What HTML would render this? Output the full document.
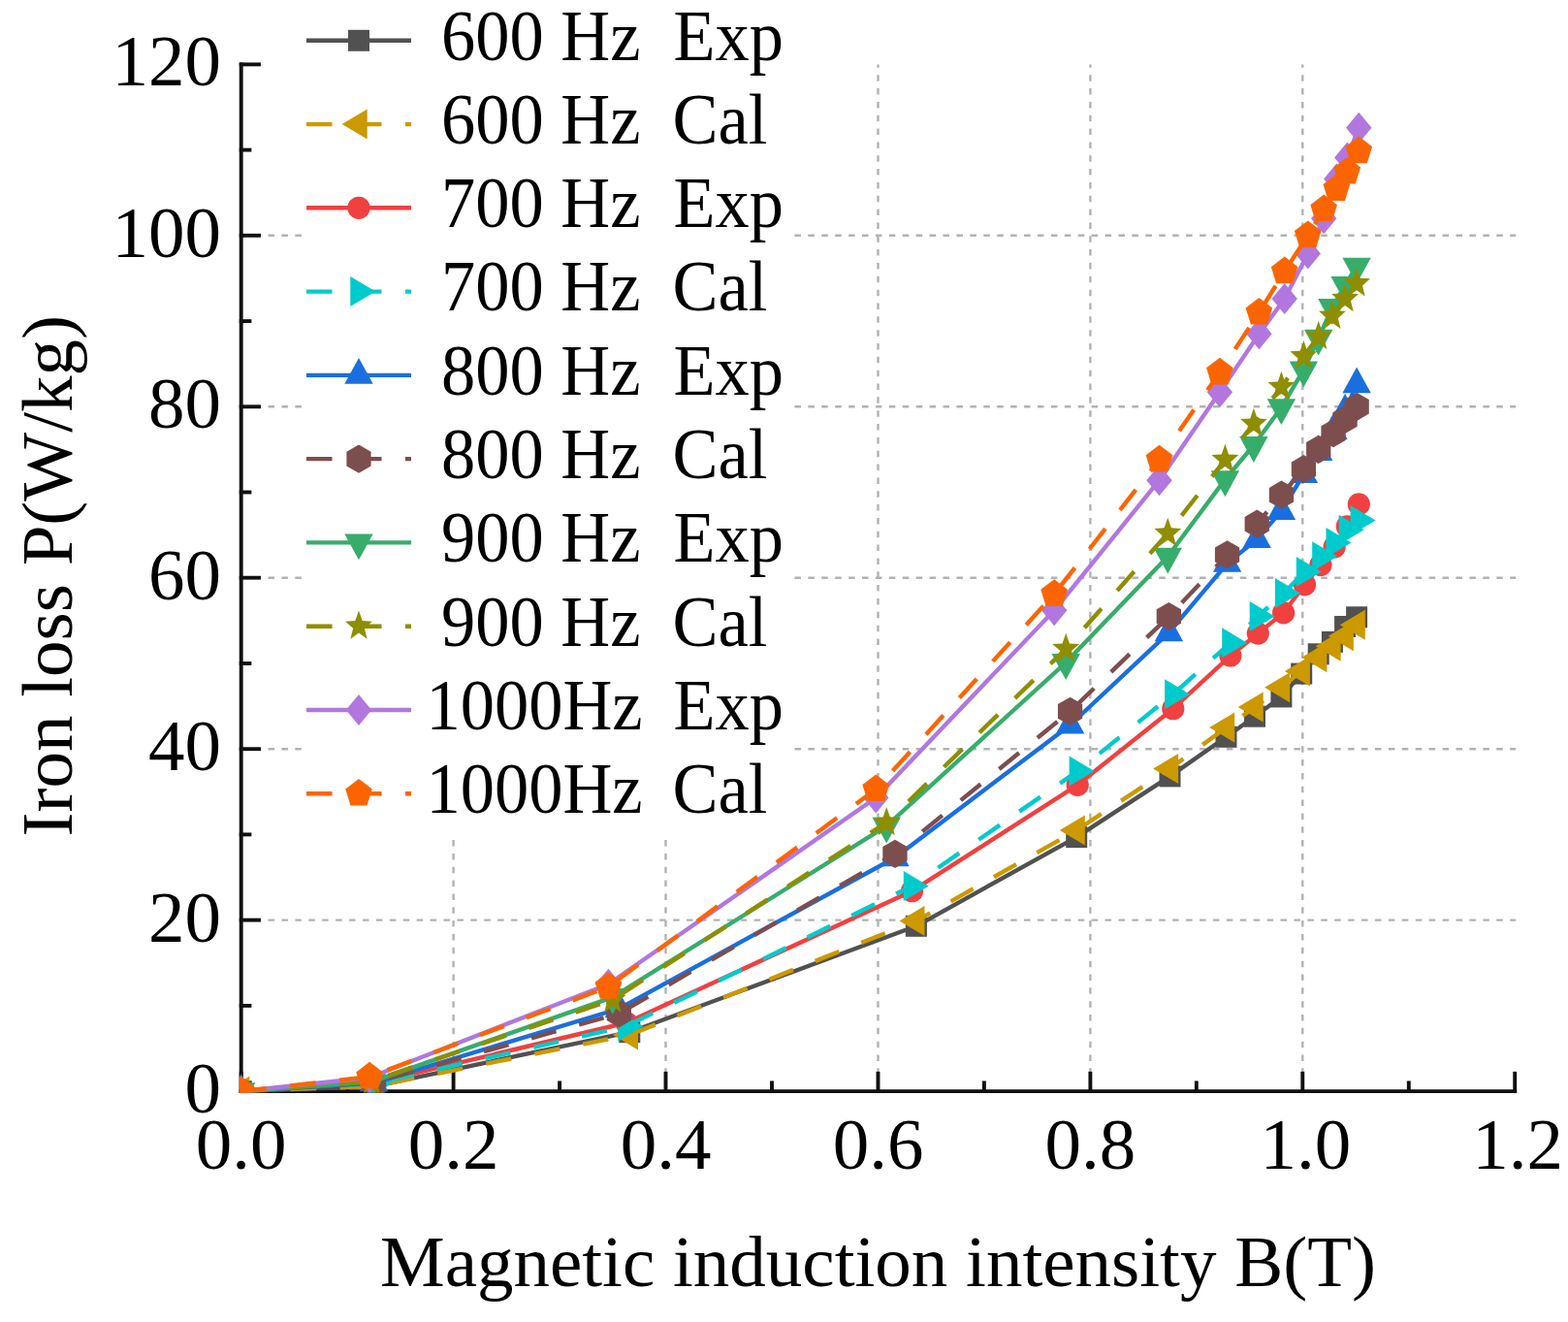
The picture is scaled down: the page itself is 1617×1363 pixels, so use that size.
<!DOCTYPE html>
<html><head><meta charset="utf-8"><title>Iron loss vs magnetic induction</title>
<style>
html,body{margin:0;padding:0;background:#fff;}
body{width:1617px;height:1363px;overflow:hidden;}
svg{display:block;font-family:"Liberation Serif","Times New Roman",serif;}
</style></head><body>
<svg width="1617" height="1363" viewBox="0 0 1617 1363">
<defs><clipPath id="pc"><rect x="247" y="60" width="1330" height="1066.5"/></clipPath></defs>
<rect width="1617" height="1363" fill="#fff"/>
<g stroke="#b2b2b2" stroke-width="2.4" fill="none"><line x1="467.6" y1="1121.7" x2="467.6" y2="66.4" stroke-dasharray="6.5 7.34"/><line x1="686.5" y1="1121.7" x2="686.5" y2="66.4" stroke-dasharray="6.5 7.34"/><line x1="905.5" y1="1121.7" x2="905.5" y2="66.4" stroke-dasharray="6.5 7.34"/><line x1="1124.4" y1="1121.7" x2="1124.4" y2="66.4" stroke-dasharray="6.5 7.34"/><line x1="1343.3" y1="1121.7" x2="1343.3" y2="66.4" stroke-dasharray="6.5 7.34"/><line x1="248.7" y1="948.6" x2="1563.2" y2="948.6" stroke-dasharray="6.5 7.42"/><line x1="248.7" y1="772.2" x2="1563.2" y2="772.2" stroke-dasharray="6.5 7.42"/><line x1="248.7" y1="595.7" x2="1563.2" y2="595.7" stroke-dasharray="6.5 7.42"/><line x1="248.7" y1="419.3" x2="1563.2" y2="419.3" stroke-dasharray="6.5 7.42"/><line x1="248.7" y1="242.8" x2="1563.2" y2="242.8" stroke-dasharray="6.5 7.42"/></g>
<rect x="312" y="0" width="501" height="861" fill="#fff"/>
<g stroke="#111" stroke-width="3.9" fill="none" stroke-linecap="square"><path d="M248.7 66.4 V1125.1 H1562.2" /><line x1="248.7" y1="1125.1" x2="267" y2="1125.1"/><line x1="248.7" y1="948.6" x2="267" y2="948.6"/><line x1="248.7" y1="772.2" x2="267" y2="772.2"/><line x1="248.7" y1="595.7" x2="267" y2="595.7"/><line x1="248.7" y1="419.3" x2="267" y2="419.3"/><line x1="248.7" y1="242.8" x2="267" y2="242.8"/><line x1="248.7" y1="66.4" x2="267" y2="66.4"/><line x1="248.7" y1="1036.9" x2="257.4" y2="1036.9"/><line x1="248.7" y1="860.4" x2="257.4" y2="860.4"/><line x1="248.7" y1="684" x2="257.4" y2="684"/><line x1="248.7" y1="507.5" x2="257.4" y2="507.5"/><line x1="248.7" y1="331.1" x2="257.4" y2="331.1"/><line x1="248.7" y1="154.6" x2="257.4" y2="154.6"/><line x1="248.7" y1="1125.1" x2="248.7" y2="1106.8"/><line x1="467.6" y1="1125.1" x2="467.6" y2="1106.8"/><line x1="686.5" y1="1125.1" x2="686.5" y2="1106.8"/><line x1="905.5" y1="1125.1" x2="905.5" y2="1106.8"/><line x1="1124.4" y1="1125.1" x2="1124.4" y2="1106.8"/><line x1="1343.3" y1="1125.1" x2="1343.3" y2="1106.8"/><line x1="1562.2" y1="1125.1" x2="1562.2" y2="1106.8"/><line x1="358.2" y1="1125.1" x2="358.2" y2="1116.4"/><line x1="577.1" y1="1125.1" x2="577.1" y2="1116.4"/><line x1="796" y1="1125.1" x2="796" y2="1116.4"/><line x1="1014.9" y1="1125.1" x2="1014.9" y2="1116.4"/><line x1="1233.8" y1="1125.1" x2="1233.8" y2="1116.4"/><line x1="1452.8" y1="1125.1" x2="1452.8" y2="1116.4"/></g>
<g font-size="75" fill="#000"><text x="228" y="1147.1" text-anchor="end">0</text><text x="228" y="970.6" text-anchor="end">20</text><text x="228" y="794.2" text-anchor="end">40</text><text x="228" y="617.7" text-anchor="end">60</text><text x="228" y="441.3" text-anchor="end">80</text><text x="228" y="264.8" text-anchor="end">100</text><text x="228" y="88.4" text-anchor="end">120</text><text x="248.7" y="1205" text-anchor="middle">0.0</text><text x="467.6" y="1205" text-anchor="middle">0.2</text><text x="686.5" y="1205" text-anchor="middle">0.4</text><text x="905.5" y="1205" text-anchor="middle">0.6</text><text x="1124.4" y="1205" text-anchor="middle">0.8</text><text x="1346.3" y="1205" text-anchor="middle">1.0</text><text x="1565.2" y="1205" text-anchor="middle">1.2</text></g>
<text x="392" y="1325.5" font-size="75" textLength="1027" lengthAdjust="spacingAndGlyphs">Magnetic induction intensity B(T)</text>
<text transform="translate(73.5 862.5) rotate(-90)" font-size="75">Iron loss P(W/kg)</text>
<g clip-path="url(#pc)">
<path d="M248.7 1125.1 L386.6 1119.8 L649.3 1064.2 L944.9 954.8 L1110.2 863.1 L1206.5 800.4 L1264.5 759.8 L1294 738.7 L1321.4 718.4 L1342.2 694.6 L1359.7 674.3 L1373.9 661.9 L1387.1 646 L1399.1 636.3" stroke="#515151" stroke-width="4.4" fill="none" stroke-linejoin="round"/>
<rect x="237.7" y="1114.1" width="22" height="22" fill="#515151"/><rect x="375.6" y="1108.8" width="22" height="22" fill="#515151"/><rect x="638.3" y="1053.2" width="22" height="22" fill="#515151"/><rect x="933.9" y="943.8" width="22" height="22" fill="#515151"/><rect x="1099.2" y="852.1" width="22" height="22" fill="#515151"/><rect x="1195.5" y="789.4" width="22" height="22" fill="#515151"/><rect x="1253.5" y="748.8" width="22" height="22" fill="#515151"/><rect x="1283" y="727.7" width="22" height="22" fill="#515151"/><rect x="1310.4" y="707.4" width="22" height="22" fill="#515151"/><rect x="1331.2" y="683.6" width="22" height="22" fill="#515151"/><rect x="1348.7" y="663.3" width="22" height="22" fill="#515151"/><rect x="1362.9" y="650.9" width="22" height="22" fill="#515151"/><rect x="1376.1" y="635" width="22" height="22" fill="#515151"/><rect x="1388.1" y="625.3" width="22" height="22" fill="#515151"/>
<path d="M248.7 1125.1 L386.6 1119.8 L649.3 1066.9 L944.9 949.5 L1110.2 856 L1206.5 792.5 L1264.5 750.1 L1294 729 L1321.4 708.7 L1342.2 691.9 L1359.7 677.8 L1373.9 666.3 L1387.1 655.7 L1399.1 644.3" stroke="#CC9900" stroke-width="4.4" fill="none" stroke-linejoin="round" stroke-dasharray="26.5 24.5"/>
<polygon points="231.4,1125.1 257.4,1109.6 257.4,1140.6" fill="#CC9900"/><polygon points="369.3,1119.8 395.3,1104.3 395.3,1135.3" fill="#CC9900"/><polygon points="632,1066.9 658,1051.4 658,1082.4" fill="#CC9900"/><polygon points="927.5,949.5 953.5,934 953.5,965" fill="#CC9900"/><polygon points="1092.8,856 1118.8,840.5 1118.8,871.5" fill="#CC9900"/><polygon points="1189.1,792.5 1215.1,777 1215.1,808" fill="#CC9900"/><polygon points="1247.2,750.1 1273.2,734.6 1273.2,765.6" fill="#CC9900"/><polygon points="1276.7,729 1302.7,713.5 1302.7,744.5" fill="#CC9900"/><polygon points="1304.1,708.7 1330.1,693.2 1330.1,724.2" fill="#CC9900"/><polygon points="1324.9,691.9 1350.9,676.4 1350.9,707.4" fill="#CC9900"/><polygon points="1342.4,677.8 1368.4,662.3 1368.4,693.3" fill="#CC9900"/><polygon points="1356.6,666.3 1382.6,650.8 1382.6,681.8" fill="#CC9900"/><polygon points="1369.8,655.7 1395.8,640.2 1395.8,671.2" fill="#CC9900"/><polygon points="1381.8,644.3 1407.8,628.8 1407.8,659.8" fill="#CC9900"/>
<path d="M248.7 1125.1 L386.6 1116.3 L646 1054.5 L940.5 918.7 L1111.2 809.3 L1209.8 730.7 L1268.9 676 L1297.3 653.1 L1323.6 631.9 L1345.5 602.8 L1361.9 582.5 L1376.1 564 L1389.3 542.8 L1401.3 519.9" stroke="#F14040" stroke-width="4.4" fill="none" stroke-linejoin="round"/>
<circle cx="248.7" cy="1125.1" r="11.6" fill="#F14040"/><circle cx="386.6" cy="1116.3" r="11.6" fill="#F14040"/><circle cx="646" cy="1054.5" r="11.6" fill="#F14040"/><circle cx="940.5" cy="918.7" r="11.6" fill="#F14040"/><circle cx="1111.2" cy="809.3" r="11.6" fill="#F14040"/><circle cx="1209.8" cy="730.7" r="11.6" fill="#F14040"/><circle cx="1268.9" cy="676" r="11.6" fill="#F14040"/><circle cx="1297.3" cy="653.1" r="11.6" fill="#F14040"/><circle cx="1323.6" cy="631.9" r="11.6" fill="#F14040"/><circle cx="1345.5" cy="602.8" r="11.6" fill="#F14040"/><circle cx="1361.9" cy="582.5" r="11.6" fill="#F14040"/><circle cx="1376.1" cy="564" r="11.6" fill="#F14040"/><circle cx="1389.3" cy="542.8" r="11.6" fill="#F14040"/><circle cx="1401.3" cy="519.9" r="11.6" fill="#F14040"/>
<path d="M248.7 1125.1 L386.6 1117.2 L646 1058 L940.5 913.4 L1111.2 795.1 L1209.8 715.7 L1268.9 662.8 L1297.3 635.5 L1323.6 611.6 L1345.5 589.6 L1361.9 573.7 L1376.1 559.6 L1389.3 546.3 L1401.3 536.6" stroke="#00CBCC" stroke-width="4.4" fill="none" stroke-linejoin="round" stroke-dasharray="26.5 24.5"/>
<polygon points="266,1125.1 240,1109.6 240,1140.6" fill="#00CBCC"/><polygon points="404,1117.2 378,1101.7 378,1132.7" fill="#00CBCC"/><polygon points="663.4,1058 637.4,1042.5 637.4,1073.5" fill="#00CBCC"/><polygon points="957.8,913.4 931.8,897.9 931.8,928.9" fill="#00CBCC"/><polygon points="1128.6,795.1 1102.6,779.6 1102.6,810.6" fill="#00CBCC"/><polygon points="1227.1,715.7 1201.1,700.2 1201.1,731.2" fill="#00CBCC"/><polygon points="1286.2,662.8 1260.2,647.3 1260.2,678.3" fill="#00CBCC"/><polygon points="1314.7,635.5 1288.7,620 1288.7,651" fill="#00CBCC"/><polygon points="1340.9,611.6 1314.9,596.1 1314.9,627.1" fill="#00CBCC"/><polygon points="1362.8,589.6 1336.8,574.1 1336.8,605.1" fill="#00CBCC"/><polygon points="1379.2,573.7 1353.2,558.2 1353.2,589.2" fill="#00CBCC"/><polygon points="1393.5,559.6 1367.5,544.1 1367.5,575.1" fill="#00CBCC"/><polygon points="1406.6,546.3 1380.6,530.8 1380.6,561.8" fill="#00CBCC"/><polygon points="1418.6,536.6 1392.6,521.1 1392.6,552.1" fill="#00CBCC"/>
<path d="M248.7 1125.1 L385.5 1116.3 L638.4 1040 L923 884.2 L1103.6 747.5 L1205.4 652.2 L1265.6 580.8 L1296.2 556 L1321.4 526.9 L1344.4 489 L1359.7 466.1 L1375 444 L1387.1 423.7 L1399.1 396.4" stroke="#1A6FDF" stroke-width="4.4" fill="none" stroke-linejoin="round"/>
<polygon points="248.7,1107.2 263.4,1134 234,1134" fill="#1A6FDF"/><polygon points="385.5,1098.4 400.2,1125.2 370.8,1125.2" fill="#1A6FDF"/><polygon points="638.4,1022.1 653.1,1048.9 623.7,1048.9" fill="#1A6FDF"/><polygon points="923,866.3 937.7,893.2 908.3,893.2" fill="#1A6FDF"/><polygon points="1103.6,729.6 1118.3,756.4 1088.9,756.4" fill="#1A6FDF"/><polygon points="1205.4,634.3 1220.1,661.2 1190.7,661.2" fill="#1A6FDF"/><polygon points="1265.6,562.9 1280.3,589.7 1250.9,589.7" fill="#1A6FDF"/><polygon points="1296.2,538.2 1310.9,565 1281.5,565" fill="#1A6FDF"/><polygon points="1321.4,509 1336.1,535.9 1306.7,535.9" fill="#1A6FDF"/><polygon points="1344.4,471.1 1359.1,497.9 1329.7,497.9" fill="#1A6FDF"/><polygon points="1359.7,448.2 1374.4,475 1345,475" fill="#1A6FDF"/><polygon points="1375,426.1 1389.7,453 1360.3,453" fill="#1A6FDF"/><polygon points="1387.1,405.8 1401.8,432.7 1372.4,432.7" fill="#1A6FDF"/><polygon points="1399.1,378.5 1413.8,405.3 1384.4,405.3" fill="#1A6FDF"/>
<path d="M248.7 1125.1 L385.5 1116.3 L638.4 1044.8 L923 880.3 L1103.6 733.4 L1205.4 635.5 L1265.6 571.9 L1296.2 540.2 L1321.4 510.2 L1344.4 483.7 L1359.7 463.4 L1375 446.6 L1387.1 432.5 L1399.1 419.3" stroke="#7D4E4E" stroke-width="4.4" fill="none" stroke-linejoin="round" stroke-dasharray="26.5 24.5"/>
<polygon points="248.7,1110.5 236.1,1117.8 236.1,1132.4 248.7,1139.7 261.3,1132.4 261.3,1117.8" fill="#7D4E4E"/><polygon points="385.5,1101.7 372.9,1109 372.9,1123.6 385.5,1130.9 398.2,1123.6 398.2,1109" fill="#7D4E4E"/><polygon points="638.4,1030.2 625.7,1037.5 625.7,1052.1 638.4,1059.4 651,1052.1 651,1037.5" fill="#7D4E4E"/><polygon points="923,865.7 910.3,873 910.3,887.6 923,894.9 935.6,887.6 935.6,873" fill="#7D4E4E"/><polygon points="1103.6,718.8 1090.9,726.1 1090.9,740.7 1103.6,748 1116.2,740.7 1116.2,726.1" fill="#7D4E4E"/><polygon points="1205.4,620.9 1192.7,628.2 1192.7,642.8 1205.4,650.1 1218,642.8 1218,628.2" fill="#7D4E4E"/><polygon points="1265.6,557.3 1252.9,564.6 1252.9,579.2 1265.6,586.5 1278.2,579.2 1278.2,564.6" fill="#7D4E4E"/><polygon points="1296.2,525.6 1283.6,532.9 1283.6,547.5 1296.2,554.8 1308.9,547.5 1308.9,532.9" fill="#7D4E4E"/><polygon points="1321.4,495.6 1308.8,502.9 1308.8,517.5 1321.4,524.8 1334.1,517.5 1334.1,502.9" fill="#7D4E4E"/><polygon points="1344.4,469.1 1331.8,476.4 1331.8,491 1344.4,498.3 1357,491 1357,476.4" fill="#7D4E4E"/><polygon points="1359.7,448.8 1347.1,456.1 1347.1,470.7 1359.7,478 1372.4,470.7 1372.4,456.1" fill="#7D4E4E"/><polygon points="1375,432 1362.4,439.3 1362.4,453.9 1375,461.2 1387.7,453.9 1387.7,439.3" fill="#7D4E4E"/><polygon points="1387.1,417.9 1374.4,425.2 1374.4,439.8 1387.1,447.1 1399.7,439.8 1399.7,425.2" fill="#7D4E4E"/><polygon points="1399.1,404.7 1386.5,412 1386.5,426.6 1399.1,433.9 1411.8,426.6 1411.8,412" fill="#7D4E4E"/>
<path d="M248.7 1125.1 L383.3 1115.4 L631.8 1028.1 L914.2 851.6 L1099.2 683.1 L1204.3 573.7 L1263.4 494.3 L1292.9 459 L1321.4 420.2 L1344.4 381.4 L1359.7 348.7 L1373.9 317 L1387.1 294 L1399.1 274.6" stroke="#37AD6B" stroke-width="4.4" fill="none" stroke-linejoin="round"/>
<polygon points="248.7,1143 263.4,1116.2 234,1116.2" fill="#37AD6B"/><polygon points="383.3,1133.3 398,1106.4 368.6,1106.4" fill="#37AD6B"/><polygon points="631.8,1046 646.5,1019.1 617.1,1019.1" fill="#37AD6B"/><polygon points="914.2,869.5 928.9,842.7 899.5,842.7" fill="#37AD6B"/><polygon points="1099.2,701 1113.9,674.1 1084.5,674.1" fill="#37AD6B"/><polygon points="1204.3,591.6 1219,564.7 1189.6,564.7" fill="#37AD6B"/><polygon points="1263.4,512.2 1278.1,485.3 1248.7,485.3" fill="#37AD6B"/><polygon points="1292.9,476.9 1307.6,450.1 1278.2,450.1" fill="#37AD6B"/><polygon points="1321.4,438.1 1336.1,411.2 1306.7,411.2" fill="#37AD6B"/><polygon points="1344.4,399.3 1359.1,372.4 1329.7,372.4" fill="#37AD6B"/><polygon points="1359.7,366.6 1374.4,339.8 1345,339.8" fill="#37AD6B"/><polygon points="1373.9,334.9 1388.6,308 1359.2,308" fill="#37AD6B"/><polygon points="1387.1,311.9 1401.8,285.1 1372.4,285.1" fill="#37AD6B"/><polygon points="1399.1,292.5 1413.8,265.7 1384.4,265.7" fill="#37AD6B"/>
<path d="M248.7 1125.1 L383.3 1114.5 L631.8 1030.7 L914.2 848.1 L1099.2 669 L1204.3 549.9 L1263.4 474 L1292.9 436.9 L1321.4 399 L1344.4 367.2 L1359.7 347 L1373.9 325.8 L1387.1 308.1 L1399.1 292.3" stroke="#8E8E00" stroke-width="4.4" fill="none" stroke-linejoin="round" stroke-dasharray="26.5 24.5"/>
<polygon points="248.7,1108.9 245,1119.5 234.8,1120.1 242.8,1127.2 240.1,1138.2 248.7,1132 257.3,1138.2 254.6,1127.2 262.6,1120.1 252.4,1119.5" fill="#8E8E00"/><polygon points="383.3,1098.3 379.7,1108.9 369.5,1109.5 377.4,1116.6 374.8,1127.6 383.3,1121.4 391.9,1127.6 389.2,1116.6 397.2,1109.5 387,1108.9" fill="#8E8E00"/><polygon points="631.8,1014.5 628.2,1025.1 617.9,1025.7 625.9,1032.8 623.2,1043.8 631.8,1037.6 640.4,1043.8 637.7,1032.8 645.7,1025.7 635.5,1025.1" fill="#8E8E00"/><polygon points="914.2,831.9 910.6,842.5 900.4,843.1 908.3,850.2 905.6,861.2 914.2,855 922.8,861.2 920.1,850.2 928.1,843.1 917.9,842.5" fill="#8E8E00"/><polygon points="1099.2,652.8 1095.6,663.4 1085.3,664 1093.3,671.1 1090.6,682.1 1099.2,675.9 1107.8,682.1 1105.1,671.1 1113.1,664 1102.9,663.4" fill="#8E8E00"/><polygon points="1204.3,533.7 1200.6,544.3 1190.4,544.9 1198.4,552 1195.7,563 1204.3,556.8 1212.9,563 1210.2,552 1218.2,544.9 1207.9,544.3" fill="#8E8E00"/><polygon points="1263.4,457.8 1259.7,468.4 1249.5,469 1257.5,476.1 1254.8,487.1 1263.4,480.9 1272,487.1 1269.3,476.1 1277.3,469 1267,468.4" fill="#8E8E00"/><polygon points="1292.9,420.7 1289.3,431.4 1279.1,431.9 1287,439.1 1284.4,450.1 1292.9,443.8 1301.5,450.1 1298.9,439.1 1306.8,431.9 1296.6,431.4" fill="#8E8E00"/><polygon points="1321.4,382.8 1317.8,393.4 1307.5,394 1315.5,401.1 1312.8,412.1 1321.4,405.9 1330,412.1 1327.3,401.1 1335.3,394 1325.1,393.4" fill="#8E8E00"/><polygon points="1344.4,351 1340.7,361.7 1330.5,362.2 1338.5,369.4 1335.8,380.4 1344.4,374.1 1353,380.4 1350.3,369.4 1358.3,362.2 1348,361.7" fill="#8E8E00"/><polygon points="1359.7,330.8 1356.1,341.4 1345.9,341.9 1353.8,349.1 1351.1,360.1 1359.7,353.9 1368.3,360.1 1365.6,349.1 1373.6,341.9 1363.4,341.4" fill="#8E8E00"/><polygon points="1373.9,309.6 1370.3,320.2 1360.1,320.8 1368,327.9 1365.4,338.9 1373.9,332.7 1382.5,338.9 1379.9,327.9 1387.8,320.8 1377.6,320.2" fill="#8E8E00"/><polygon points="1387.1,291.9 1383.4,302.6 1373.2,303.1 1381.2,310.3 1378.5,321.2 1387.1,315 1395.7,321.2 1393,310.3 1401,303.1 1390.7,302.6" fill="#8E8E00"/><polygon points="1399.1,276.1 1395.5,286.7 1385.3,287.2 1393.2,294.4 1390.6,305.4 1399.1,299.2 1407.7,305.4 1405,294.4 1413,287.2 1402.8,286.7" fill="#8E8E00"/>
<path d="M248.7 1125.1 L381.1 1111 L627.4 1014.8 L903.3 822.5 L1087.2 629.3 L1195.5 495.2 L1257.9 404.3 L1298.4 344.3 L1324.7 308.1 L1348.8 261.4 L1365.2 225.2 L1378.3 184.6 L1389.3 162.6 L1401.3 131.7" stroke="#B177DE" stroke-width="4.4" fill="none" stroke-linejoin="round"/>
<polygon points="248.7,1109.1 261.9,1125.1 248.7,1141.1 235.5,1125.1" fill="#B177DE"/><polygon points="381.1,1095 394.3,1111 381.1,1127 367.9,1111" fill="#B177DE"/><polygon points="627.4,998.8 640.6,1014.8 627.4,1030.8 614.2,1014.8" fill="#B177DE"/><polygon points="903.3,806.5 916.5,822.5 903.3,838.5 890.1,822.5" fill="#B177DE"/><polygon points="1087.2,613.3 1100.4,629.3 1087.2,645.3 1074,629.3" fill="#B177DE"/><polygon points="1195.5,479.2 1208.7,495.2 1195.5,511.2 1182.3,495.2" fill="#B177DE"/><polygon points="1257.9,388.3 1271.1,404.3 1257.9,420.3 1244.7,404.3" fill="#B177DE"/><polygon points="1298.4,328.3 1311.6,344.3 1298.4,360.3 1285.2,344.3" fill="#B177DE"/><polygon points="1324.7,292.1 1337.9,308.1 1324.7,324.1 1311.5,308.1" fill="#B177DE"/><polygon points="1348.8,245.4 1362,261.4 1348.8,277.4 1335.6,261.4" fill="#B177DE"/><polygon points="1365.2,209.2 1378.4,225.2 1365.2,241.2 1352,225.2" fill="#B177DE"/><polygon points="1378.3,168.6 1391.5,184.6 1378.3,200.6 1365.1,184.6" fill="#B177DE"/><polygon points="1389.3,146.6 1402.5,162.6 1389.3,178.6 1376.1,162.6" fill="#B177DE"/><polygon points="1401.3,115.7 1414.5,131.7 1401.3,147.7 1388.1,131.7" fill="#B177DE"/>
<path d="M248.7 1125.1 L381.1 1110.1 L627.4 1017.5 L903.3 813.7 L1087.2 612.5 L1195.5 474 L1257.9 384 L1298.4 322.3 L1324.7 279.9 L1348.8 242.8 L1365.2 215.9 L1378.3 194.7 L1389.3 177.2 L1401.3 155.9" stroke="#FB6501" stroke-width="4.4" fill="none" stroke-linejoin="round" stroke-dasharray="26.5 24.5"/>
<polygon points="248.7,1109.8 234.9,1120.4 240.2,1137.5 257.2,1137.5 262.5,1120.4" fill="#FB6501"/><polygon points="381.1,1094.8 367.3,1105.4 372.6,1122.5 389.7,1122.5 395,1105.4" fill="#FB6501"/><polygon points="627.4,1002.2 613.6,1012.7 618.9,1029.8 636,1029.8 641.3,1012.7" fill="#FB6501"/><polygon points="903.3,798.4 889.4,808.9 894.7,826 911.8,826 917.1,808.9" fill="#FB6501"/><polygon points="1087.2,597.2 1073.3,607.8 1078.6,624.9 1095.7,624.9 1101,607.8" fill="#FB6501"/><polygon points="1195.5,458.7 1181.7,469.3 1187,486.4 1204.1,486.4 1209.4,469.3" fill="#FB6501"/><polygon points="1257.9,368.7 1244.1,379.3 1249.4,396.4 1266.5,396.4 1271.7,379.3" fill="#FB6501"/><polygon points="1298.4,307 1284.6,317.5 1289.9,334.6 1307,334.6 1312.2,317.5" fill="#FB6501"/><polygon points="1324.7,264.6 1310.9,275.2 1316.1,292.3 1333.2,292.3 1338.5,275.2" fill="#FB6501"/><polygon points="1348.8,227.5 1334.9,238.1 1340.2,255.2 1357.3,255.2 1362.6,238.1" fill="#FB6501"/><polygon points="1365.2,200.6 1351.4,211.2 1356.6,228.3 1373.7,228.3 1379,211.2" fill="#FB6501"/><polygon points="1378.3,179.4 1364.5,190 1369.8,207.1 1386.9,207.1 1392.2,190" fill="#FB6501"/><polygon points="1389.3,161.9 1375.4,172.5 1380.7,189.6 1397.8,189.6 1403.1,172.5" fill="#FB6501"/><polygon points="1401.3,140.6 1387.5,151.2 1392.8,168.3 1409.9,168.3 1415.1,151.2" fill="#FB6501"/>
</g>
<line x1="316" y1="41.8" x2="424" y2="41.8" stroke="#515151" stroke-width="4.4"/>
<rect x="359" y="30.8" width="22" height="22" fill="#515151"/>
<text transform="translate(455 61.6) scale(0.94 1)" font-size="75">600 Hz</text>
<text transform="translate(694.5 61.6) scale(0.94 1)" font-size="75">Exp</text>
<line x1="316" y1="128.1" x2="424" y2="128.1" stroke="#CC9900" stroke-width="4.4" stroke-dasharray="26.5 24.5"/>
<polygon points="352.7,128.1 378.7,112.6 378.7,143.6" fill="#CC9900"/>
<text transform="translate(455 147.9) scale(0.94 1)" font-size="75">600 Hz</text>
<text transform="translate(693.5 147.9) scale(0.94 1)" font-size="75">Cal</text>
<line x1="316" y1="214.3" x2="424" y2="214.3" stroke="#F14040" stroke-width="4.4"/>
<circle cx="370" cy="214.3" r="11.6" fill="#F14040"/>
<text transform="translate(455 234.1) scale(0.94 1)" font-size="75">700 Hz</text>
<text transform="translate(694.5 234.1) scale(0.94 1)" font-size="75">Exp</text>
<line x1="316" y1="300.6" x2="424" y2="300.6" stroke="#00CBCC" stroke-width="4.4" stroke-dasharray="26.5 24.5"/>
<polygon points="387.3,300.6 361.3,285.1 361.3,316.1" fill="#00CBCC"/>
<text transform="translate(455 320.4) scale(0.94 1)" font-size="75">700 Hz</text>
<text transform="translate(693.5 320.4) scale(0.94 1)" font-size="75">Cal</text>
<line x1="316" y1="386.9" x2="424" y2="386.9" stroke="#1A6FDF" stroke-width="4.4"/>
<polygon points="370,369 384.7,395.8 355.3,395.8" fill="#1A6FDF"/>
<text transform="translate(455 406.7) scale(0.94 1)" font-size="75">800 Hz</text>
<text transform="translate(694.5 406.7) scale(0.94 1)" font-size="75">Exp</text>
<line x1="316" y1="473.1" x2="424" y2="473.1" stroke="#7D4E4E" stroke-width="4.4" stroke-dasharray="26.5 24.5"/>
<polygon points="370,458.5 357.4,465.8 357.4,480.4 370,487.8 382.6,480.4 382.6,465.8" fill="#7D4E4E"/>
<text transform="translate(455 492.9) scale(0.94 1)" font-size="75">800 Hz</text>
<text transform="translate(693.5 492.9) scale(0.94 1)" font-size="75">Cal</text>
<line x1="316" y1="559.4" x2="424" y2="559.4" stroke="#37AD6B" stroke-width="4.4"/>
<polygon points="370,577.3 384.7,550.5 355.3,550.5" fill="#37AD6B"/>
<text transform="translate(455 579.2) scale(0.94 1)" font-size="75">900 Hz</text>
<text transform="translate(694.5 579.2) scale(0.94 1)" font-size="75">Exp</text>
<line x1="316" y1="645.7" x2="424" y2="645.7" stroke="#8E8E00" stroke-width="4.4" stroke-dasharray="26.5 24.5"/>
<polygon points="370,629.5 366.3,640.1 356.1,640.7 364.1,647.8 361.4,658.8 370,652.6 378.6,658.8 375.9,647.8 383.9,640.7 373.7,640.1" fill="#8E8E00"/>
<text transform="translate(455 665.5) scale(0.94 1)" font-size="75">900 Hz</text>
<text transform="translate(693.5 665.5) scale(0.94 1)" font-size="75">Cal</text>
<line x1="316" y1="732" x2="424" y2="732" stroke="#B177DE" stroke-width="4.4"/>
<polygon points="370,716 383.2,732 370,748 356.8,732" fill="#B177DE"/>
<text transform="translate(439.5 751.8) scale(0.94 1)" font-size="75">1000Hz</text>
<text transform="translate(694.5 751.8) scale(0.94 1)" font-size="75">Exp</text>
<line x1="316" y1="818.2" x2="424" y2="818.2" stroke="#FB6501" stroke-width="4.4" stroke-dasharray="26.5 24.5"/>
<polygon points="370,802.9 356.2,813.5 361.5,830.6 378.5,830.6 383.8,813.5" fill="#FB6501"/>
<text transform="translate(439.5 838) scale(0.94 1)" font-size="75">1000Hz</text>
<text transform="translate(693.5 838) scale(0.94 1)" font-size="75">Cal</text>
</svg>
</body></html>
